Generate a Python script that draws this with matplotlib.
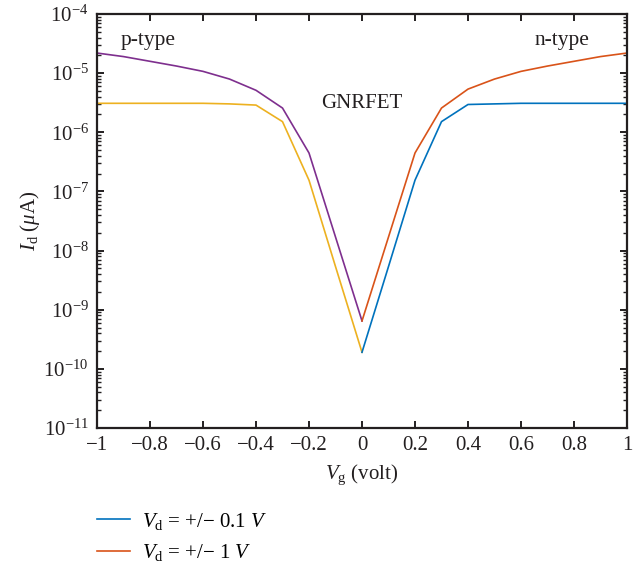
import numpy as np
import matplotlib
matplotlib.use("Agg")
import matplotlib.pyplot as plt
from matplotlib.lines import Line2D
from matplotlib.ticker import LogLocator, NullFormatter

plt.rcParams['font.family'] = ['Liberation Serif', 'DejaVu Serif']
plt.rcParams['mathtext.fontset'] = 'custom'
plt.rcParams['mathtext.rm'] = 'Liberation Serif'
plt.rcParams['mathtext.it'] = 'Liberation Serif:italic'
plt.rcParams['mathtext.bf'] = 'Liberation Serif:bold'

# Data (log10 of Id in uA)
vg_p = [-1.0, -0.9, -0.8, -0.7, -0.6, -0.5, -0.4, -0.3, -0.2, -0.1, 0.0]
vg_n = [0.0, 0.1, 0.2, 0.3, 0.4, 0.5, 0.6, 0.7, 0.8, 0.9, 1.0]
log_p_vd1 = [-4.66, -4.72, -4.80, -4.88, -4.97, -5.10, -5.29, -5.59, -6.35, -7.77, -9.19]
log_p_vd01 = [-5.51, -5.51, -5.51, -5.51, -5.51, -5.52, -5.54, -5.82, -6.81, -8.27, -9.72]
log_n_vd1 = [-9.19, -7.77, -6.35, -5.59, -5.27, -5.10, -4.97, -4.88, -4.80, -4.72, -4.66]
log_n_vd01 = [-9.72, -8.27, -6.81, -5.82, -5.53, -5.52, -5.51, -5.51, -5.51, -5.51, -5.51]

legend_labels = [r'$V_{\rm d}$ = +/− 0.1 $V$', r'$V_{\rm d}$ = +/− 1 $V$']
xticks = [-1, -0.8, -0.6, -0.4, -0.2, 0, 0.2, 0.4, 0.6, 0.8, 1]

c_blue = '#0072BD'
c_orange = '#D95319'
c_yellow = '#EDB120'
c_purple = '#7E2F8E'
c_text = '#231f20'

fig = plt.figure(figsize=(6.44, 5.63), dpi=100)
ax = fig.add_axes([97/644, 1 - 428/563, 530/644, 414/563])

ax.plot(vg_p, 10**np.array(log_p_vd01), color=c_yellow, lw=1.2)
ax.plot(vg_p, 10**np.array(log_p_vd1), color=c_purple, lw=1.2)
ax.plot(vg_n, 10**np.array(log_n_vd01), color=c_blue, lw=1.2)
ax.plot(vg_n, 10**np.array(log_n_vd1), color=c_orange, lw=1.2)

ax.set_yscale('log')
ax.set_xlim(-1, 1)
ax.set_ylim(1e-11, 1e-4)
ax.set_xticks(xticks)
ax.set_xticklabels([('%g' % t).replace('-', '−') for t in xticks])
ax.yaxis.set_major_locator(LogLocator(base=10, numticks=20))
ax.yaxis.set_minor_locator(LogLocator(base=10, subs=np.arange(2, 10), numticks=20))
ax.yaxis.set_minor_formatter(NullFormatter())

for s in ax.spines.values():
    s.set_linewidth(1.6)
    s.set_color(c_text)
ax.tick_params(which='major', direction='in', length=5, width=1.4, top=True, right=True,
               labelsize=15, colors=c_text, pad=6)
ax.tick_params(which='minor', direction='in', length=3, width=1.0, top=False, right=True,
               colors=c_text)
ax.tick_params(axis='x', which='minor', bottom=False, top=False)

ax.set_xlabel(r'$V_{\rm g}$ (volt)', fontsize=15, color=c_text, labelpad=5)
ax.set_ylabel(r'$I_{\rm d}\ (\mu$A)', fontsize=15, color=c_text, labelpad=1)

ax.text(-0.91, 10**-4.44, 'p-type', fontsize=15.5, color=c_text, va='center', ha='left')
ax.text(0.755, 10**-4.44, 'n-type', fontsize=15.5, color=c_text, va='center', ha='center')
ax.text(0.0, 10**-5.52, 'GNRFET', fontsize=15, color=c_text, va='center', ha='center')

handles = [Line2D([0], [0], color=c_blue, lw=1.2), Line2D([0], [0], color=c_orange, lw=1.2)]
fig.legend(handles, legend_labels, loc='upper left', bbox_to_anchor=(82/644, 1 - 496/563),
           frameon=False, fontsize=15, handlelength=1.6, handletextpad=0.6, labelspacing=0.5,
           borderpad=0.2)

fig.savefig('out.png', dpi=100)
